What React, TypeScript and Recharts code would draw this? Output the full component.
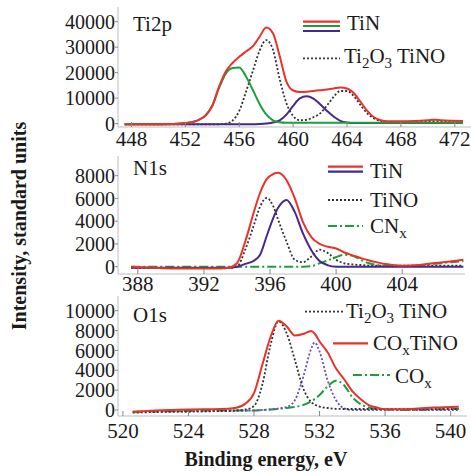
import React from 'react'
import { LineChart, Line, XAxis, YAxis } from 'recharts'

// Ti2p
const ti2pEnergy = [447.5, 449, 450, 451, 452, 453, 453.5, 454, 454.5, 455, 455.5, 456, 456.5, 457, 457.5, 458, 458.5, 459, 459.5, 460, 460.5, 461, 461.5, 462, 462.5, 463, 463.5, 464, 464.5, 465, 465.5, 466, 466.5, 467, 468, 469, 470, 470.5, 471, 472.6]
const ti2pTotal = [-300, -300, -250, -150, 200, 1500, 3200, 7000, 14500, 20500, 23800, 26200, 28300, 30300, 34000, 37700, 35500, 26500, 16500, 13000, 12400, 12500, 12800, 13100, 13400, 13800, 14200, 13800, 12000, 8500, 5000, 2500, 1300, 900, 900, 1000, 1300, 1500, 1300, 1000]
const ti2pTiN1 = [-300, -300, -250, -150, 200, 1500, 3200, 7000, 14000, 19600, 21800, 22000, 18500, 13300, 7800, 3600, 1300, 500, 300, 300, 300, 300, 300, 300, 300, 300, 300, 300, 300, 300, 300, 300, 300, 300, 300, 300, 300, 300, 300, 300]
const ti2pTiN2 = [-300, -300, -300, -300, -300, -300, -300, -300, -300, -300, -300, -300, -300, -300, -200, 0, 400, 1300, 3500, 7000, 9900, 10700, 9800, 7600, 5000, 2800, 1100, 400, 200, 200, 200, 200, 200, 200, 200, 200, 200, 200, 200, 200]
const ti2pOxide = [-300, -300, -300, -300, -300, -300, -300, -300, -250, 0, 1200, 5000, 12500, 20500, 28500, 32800, 29000, 17500, 8000, 3000, 1300, 1500, 2500, 4000, 7000, 10500, 12800, 12800, 10800, 7300, 4000, 2000, 1000, 700, 700, 800, 900, 900, 900, 900]

// N1s
const n1sEnergy = [387.6, 389, 390, 391, 392, 393, 393.5, 394, 394.5, 395, 395.4, 395.8, 396.2, 396.5, 397, 397.5, 398, 398.5, 399, 399.5, 400, 400.5, 401, 401.5, 402, 402.5, 403, 404, 405, 406, 407, 407.7]
const n1sTotal = [0, -100, -150, -150, -150, -150, -100, 300, 2200, 4700, 6500, 7700, 8150, 8250, 7600, 6000, 3900, 2600, 2000, 1750, 1600, 1250, 1000, 750, 550, 380, 230, 90, 150, 330, 480, 620]
const n1sTiN = [-100, -100, -100, -100, -100, -100, -100, 0, 250, 500, 1050, 2700, 4300, 5200, 5870, 4800, 2900, 1450, 500, 120, 0, 0, 0, 0, 0, 0, 0, 0, 0, 0, 0, 0]
const n1sTiNO = [-100, -100, -100, -100, -100, -100, -100, 0, 1500, 3550, 5300, 6040, 5300, 4100, 2200, 600, 400, 900, 1500, 1200, 600, 300, 200, 150, 100, 100, 100, 100, 100, 100, 100, 100]
const n1sCNx = [0, 0, 0, 0, 0, 0, 0, 0, 0, 0, 0, 0, 0, 0, 0, 0, 0, 50, 300, 550, 850, 1050, 950, 600, 300, 150, 80, 50, 100, 250, 400, 500]

// O1s
const o1sEnergy = [520.6, 522, 524, 526, 526.7, 527.5, 528, 528.5, 529, 529.5, 530, 530.5, 531, 531.5, 531.7, 532, 532.5, 533, 533.5, 534, 534.5, 535, 535.5, 536, 537, 538, 539, 540.5]
const o1sTotal = [-170, -50, 50, 100, 170, 670, 1700, 4500, 7300, 9000, 8400, 7500, 7650, 7950, 7700, 6900, 5800, 4200, 3100, 1900, 1100, 500, 250, 70, 80, 150, 250, 340]
const o1sOxide = [-270, -200, -150, -100, -50, 50, 400, 2500, 6500, 8920, 7700, 5000, 2200, 800, 550, 350, 200, 120, 100, 100, 100, 100, 100, 100, 100, 100, 100, 100]
const o1sTiNO = [-170, -150, -150, -100, -100, -80, -50, 0, 50, 150, 300, 1000, 3300, 6200, 6800, 5900, 2950, 1000, 170, 0, 0, 0, 0, 0, 0, 0, 0, 0]
const o1sCOx = [-200, -150, -100, -50, -50, -50, -50, 0, 50, 120, 200, 300, 500, 900, 1100, 1500, 2400, 2950, 2500, 1300, 600, 250, 100, 50, 0, 0, 50, 100]

const ti2pTicksX = [448, 452, 456, 460, 464, 468, 472]
const ti2pTicksY = [0, 10000, 20000, 30000, 40000]
const n1sTicksX = [388, 392, 396, 400, 404]
const n1sTicksY = [0, 2000, 4000, 6000, 8000]
const o1sTicksX = [520, 524, 528, 532, 536, 540]
const o1sTicksY = [0, 2000, 4000, 6000, 8000, 10000]

const ti2pData = ti2pEnergy.map((e, i) => ({ e, total: ti2pTotal[i], tin1: ti2pTiN1[i], tin2: ti2pTiN2[i], ox: ti2pOxide[i] }))
const n1sData = n1sEnergy.map((e, i) => ({ e, total: n1sTotal[i], tin: n1sTiN[i], tino: n1sTiNO[i], cnx: n1sCNx[i] }))
const o1sData = o1sEnergy.map((e, i) => ({ e, total: o1sTotal[i], ox: o1sOxide[i], tino: o1sTiNO[i], cox: o1sCOx[i] }))

const RED = '#e8332b'
const GREEN = '#1c9e3c'
const PURPLE = '#46288a'
const BLACK = '#333'
const FRAME = '#bdbdbd'
const FONT = 'Liberation Serif, Times New Roman, Times, serif'
const DOTS = '2 2'
const DASHDOT = '9 3 2 3'

const xTickStyle = { fill: '#1a1a1a', fontSize: 21, fontFamily: FONT }
const yTickStyle = { fill: '#1a1a1a', fontSize: 20, fontFamily: FONT }

function Panel({ top, height, right, data, domainX, domainY, ticksX, ticksY, xMargin, children }: any) {
  return (
    <div style={{ position: 'absolute', left: 0, top }}>
      <LineChart width={471} height={height} data={data} margin={{ top: 7, right, bottom: 0, left: 0 }} style={{ overflow: 'visible' }}>
        <XAxis dataKey="e" type="number" domain={domainX} ticks={ticksX} allowDataOverflow height={30}
          tick={xTickStyle} tickSize={-5} tickMargin={xMargin} tickLine={{ stroke: '#888' }} axisLine={{ stroke: FRAME }} />
        <XAxis xAxisId="top" orientation="top" type="number" domain={domainX} height={0} tick={false} tickLine={false} axisLine={{ stroke: FRAME }} />
        <YAxis type="number" domain={domainY} ticks={ticksY} allowDataOverflow width={118} interval={0}
          tick={yTickStyle} tickSize={3} tickMargin={0} tickLine={{ stroke: '#888' }} axisLine={{ stroke: FRAME }} />
        <YAxis yAxisId="right" orientation="right" width={0} tick={false} tickLine={false} axisLine={{ stroke: FRAME }} />
        {children}
      </LineChart>
    </div>
  )
}

const line = (key: string, color: string, dash?: string, w = 2) => (
  <Line key={key} dataKey={key} type="monotone" stroke={color} strokeWidth={w} strokeDasharray={dash} dot={false} isAnimationActive={false} />
)

function Sub({ children }: any) {
  return <tspan fontSize={15} dy={5}>{children}</tspan>
}

export default function App() {
  return (
    <div style={{ position: 'fixed', left: 0, top: 0, width: 471, height: 473, background: '#fff', fontFamily: FONT }}>
      <Panel top={0} height={157} right={0} data={ti2pData} domainX={[447.0, 473.2]} domainY={[-1335, 45770]} ticksX={ti2pTicksX} ticksY={ti2pTicksY} xMargin={9}>
        {line('ox', BLACK, DOTS, 1.8)}
        {line('tin2', PURPLE)}
        {line('tin1', GREEN)}
        {line('total', RED)}
      </Panel>
      <Panel top={149} height={155} right={6} data={n1sData} domainX={[386.8, 407.8]} domainY={[-642, 9732]} ticksX={n1sTicksX} ticksY={n1sTicksY} xMargin={7}>
        {line('tino', BLACK, DOTS, 1.8)}
        {line('cnx', GREEN, DASHDOT)}
        {line('tin', PURPLE)}
        {line('total', RED)}
      </Panel>
      <Panel top={289} height={157} right={4} data={o1sData} domainX={[519.7, 541]} domainY={[-604, 11480]} ticksX={o1sTicksX} ticksY={o1sTicksY} xMargin={12}>
        {line('cox', GREEN, DASHDOT)}
        {line('tino', '#6a4fc4', DOTS, 1.8)}
        {line('ox', BLACK, DOTS, 1.8)}
        {line('total', RED)}
      </Panel>

      <svg width={471} height={473} style={{ position: 'absolute', left: 0, top: 0, pointerEvents: 'none' }} fontFamily={FONT} fontSize={21} fill="#1a1a1a">
        {/* Ti2p */}
        <text x={133} y={31}>Ti2p</text>
        <line x1={303} x2={340} y1={21.7} y2={21.7} stroke={RED} strokeWidth={2.2} />
        <line x1={303} x2={340} y1={26} y2={26} stroke={GREEN} strokeWidth={2.2} />
        <line x1={303} x2={340} y1={31} y2={31} stroke={PURPLE} strokeWidth={2.2} />
        <text x={347} y={30}>TiN</text>
        <line x1={303} x2={340} y1={58.3} y2={58.3} stroke={BLACK} strokeWidth={1.8} strokeDasharray={DOTS} />
        <text x={344} y={63}>Ti<Sub>2</Sub><tspan dy={-5}>O</tspan><Sub>3</Sub><tspan dy={-5}> TiNO</tspan></text>

        {/* N1s */}
        <text x={133} y={175}>N1s</text>
        <line x1={328} x2={363} y1={166.7} y2={166.7} stroke={RED} strokeWidth={2.2} />
        <line x1={328} x2={363} y1={171.7} y2={171.7} stroke={PURPLE} strokeWidth={2.2} />
        <text x={370} y={178}>TiN</text>
        <line x1={328} x2={363} y1={200} y2={200} stroke={BLACK} strokeWidth={1.8} strokeDasharray={DOTS} />
        <text x={370} y={207}>TiNO</text>
        <line x1={328} x2={363} y1={226} y2={226} stroke={GREEN} strokeWidth={2} strokeDasharray={DASHDOT} />
        <text x={370} y={233}>CN<Sub>x</Sub></text>

        {/* O1s */}
        <text x={133} y={322}>O1s</text>
        <line x1={305} x2={343} y1={311.7} y2={311.7} stroke={BLACK} strokeWidth={1.8} strokeDasharray={DOTS} />
        <text x={346} y={318}>Ti<Sub>2</Sub><tspan dy={-5}>O</tspan><Sub>3</Sub><tspan dy={-5}> TiNO</tspan></text>
        <line x1={333} x2={368} y1={343.3} y2={343.3} stroke={RED} strokeWidth={2.2} />
        <text x={373} y={350}>CO<Sub>x</Sub><tspan dy={-5}>TiNO</tspan></text>
        <line x1={353} x2={390} y1={375} y2={375} stroke={GREEN} strokeWidth={2} strokeDasharray={DASHDOT} />
        <text x={395} y={383}>CO<Sub>x</Sub></text>

        {/* axis titles */}
        <text transform="translate(26,226) rotate(-90)" textAnchor="middle" fontWeight="bold" fontSize={20}>Intensity, standard units</text>
        <text x={266} y={466} textAnchor="middle" fontWeight="bold" fontSize={20}>Binding energy, eV</text>
      </svg>
    </div>
  )
}
